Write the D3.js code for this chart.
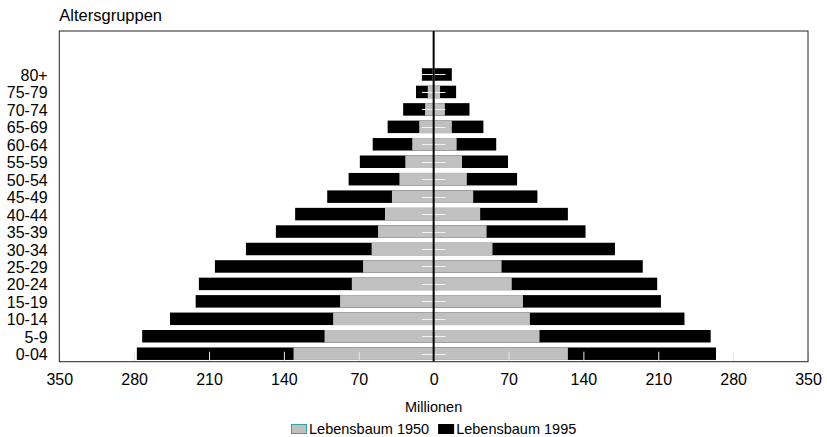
<!DOCTYPE html>
<html>
<head>
<meta charset="utf-8">
<script src="https://cdn.jsdelivr.net/npm/d3@7"></script>
<style>
  html, body { margin: 0; padding: 0; background: #fff; }
  svg { display: block; font-family: "Liberation Sans", Arial, Helvetica, sans-serif; }
</style>
</head>
<body>
<svg id="chart" width="827" height="437"></svg>
<script>
// Age groups (bottom to top)
const ages = ["0-04","5-9","10-14","15-19","20-24","25-29","30-34","35-39","40-44","45-49","50-54","55-59","60-64","65-69","70-74","75-79","80+"];
// Millions, left side of the pyramid
const left1950  = [131, 102, 94, 87.5, 76.5, 66, 58, 52, 45.5, 39, 32, 26.5, 20, 13.5, 8, 5.5, 1];
const left1995  = [277.5, 272.5, 246.5, 222.5, 219.5, 204.5, 175.5, 147.5, 129.5, 99.5, 79.5, 69, 57, 43, 28.5, 16.5, 11];
// Millions, right side of the pyramid
const right1950 = [125.5, 99, 90, 83.5, 73, 63.5, 55, 49.5, 43.5, 37, 31, 26.5, 21.5, 17, 10.5, 6, 1];
const right1995 = [264, 259, 234.5, 212.5, 209, 195.5, 169.5, 142, 125.5, 97, 78, 69.5, 58.5, 46.5, 33.5, 21, 17];
// Axis ticks
const xTicks = [-350, -280, -210, -140, -70, 0, 70, 140, 210, 280, 350];
const seriesNames = ["Lebensbaum 1950", "Lebensbaum 1995"];
const seriesColors = ["#c0c0c0", "#000000"];

const svg = d3.select("#chart");
const frame = { left: 59.3, right: 808, top: 31, bottom: 361.7 };

const x = d3.scaleLinear().domain([-350, 350]).range([frame.left, frame.right]);
const y = d3.scaleBand().domain(ages).range([frame.bottom, 66.5]).paddingInner(0.284).paddingOuter(0.1);

const rows = ages.map((a, i) => ({ age: a, l50: left1950[i], l95: left1995[i], r50: right1950[i], r95: right1995[i] }));

const g = svg.append("g");

// 1995 bars (black) full length
g.selectAll("rect.l95").data(rows).join("rect")
  .attr("x", d => x(-d.l95)).attr("width", d => x(0) - x(-d.l95))
  .attr("y", d => y(d.age)).attr("height", y.bandwidth()).attr("fill", seriesColors[1]);
g.selectAll("rect.r95").data(rows).join("rect")
  .attr("x", x(0)).attr("width", d => x(d.r95) - x(0))
  .attr("y", d => y(d.age)).attr("height", y.bandwidth()).attr("fill", seriesColors[1]);
// 1950 bars (gray) on top
g.selectAll("rect.l50").data(rows).join("rect")
  .attr("x", d => x(-d.l50)).attr("width", d => x(0) - x(-d.l50))
  .attr("y", d => y(d.age)).attr("height", y.bandwidth()).attr("fill", seriesColors[0]);
g.selectAll("rect.r50").data(rows).join("rect")
  .attr("x", x(0)).attr("width", d => x(d.r50) - x(0))
  .attr("y", d => y(d.age)).attr("height", y.bandwidth()).attr("fill", seriesColors[0]);

// short white row markers near the centre
g.selectAll("line.rowmark").data(rows).join("line")
  .attr("x1", x(-11)).attr("x2", x(11))
  .attr("y1", d => Math.round(y(d.age) + y.bandwidth() / 2) + 0.5)
  .attr("y2", d => Math.round(y(d.age) + y.bandwidth() / 2) + 0.5)
  .attr("stroke", "#f2f2f2").attr("stroke-width", 1);

// x axis with inner white ticks
const xAxis = d3.axisBottom(x).tickValues(xTicks).tickSize(-10).tickPadding(12).tickFormat(d => Math.abs(d));
const ax = svg.append("g").attr("transform", `translate(0,${frame.bottom})`).call(xAxis);
ax.select(".domain").remove();
ax.selectAll(".tick line").attr("stroke", "#e6e6e6");
ax.selectAll(".tick text").attr("font-size", 16).attr("fill", "#000")
  .style("font-family", '"Liberation Sans", Arial, sans-serif');

// centre line
svg.append("line").attr("x1", x(0)).attr("x2", x(0)).attr("y1", frame.top).attr("y2", frame.bottom)
  .attr("stroke", "#000").attr("stroke-width", 2);

// frame
svg.append("rect").attr("x", frame.left).attr("y", frame.top)
  .attr("width", frame.right - frame.left).attr("height", frame.bottom - frame.top)
  .attr("fill", "none").attr("stroke", "#222").attr("stroke-width", 1);

// y labels
svg.append("g").selectAll("text").data(ages).join("text")
  .attr("x", 47.7).attr("y", d => y(d) + y.bandwidth() / 2 + 6.5)
  .attr("text-anchor", "end").attr("font-size", 16).text(d => d);

// titles
svg.append("text").attr("x", frame.left).attr("y", 20.5).attr("font-size", 16.5).text("Altersgruppen");
svg.append("text").attr("x", x(0)).attr("y", 412.3).attr("text-anchor", "middle").attr("font-size", 14.5).text("Millionen");

// legend
const lg = svg.append("g");
let cx = 0;
seriesNames.forEach((name, i) => {
  const it = lg.append("g").attr("transform", `translate(${cx},0)`);
  it.append("rect").attr("x", 0.5).attr("y", 424.5).attr("width", 15).attr("height", 9)
    .attr("fill", seriesColors[i]).attr("stroke", i === 0 ? "#2aa8a8" : "#000").attr("stroke-width", 1);
  const t = it.append("text").attr("x", 18).attr("y", 433.5).attr("font-size", 14.5).text(name);
  const w = t.node().getComputedTextLength();
  cx += 18 + w + 9;
});
const total = cx - 9;
lg.attr("transform", `translate(${x(0) - total / 2},0)`);
</script>
</body>
</html>
